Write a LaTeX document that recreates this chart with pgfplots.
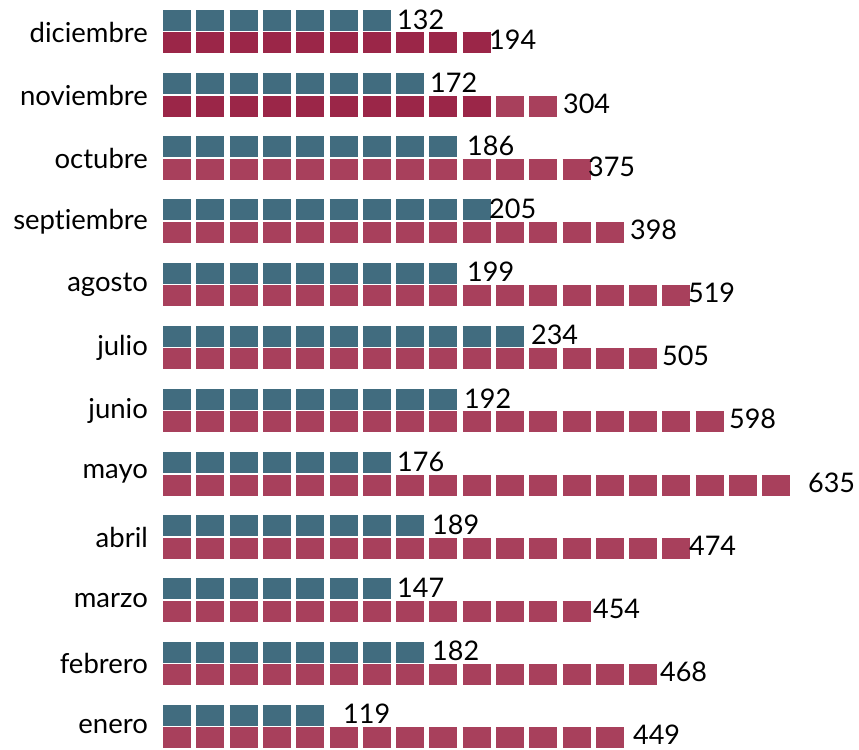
\documentclass[border=0pt]{standalone}
\usepackage{fontspec}
\setmainfont{Lato}[Ligatures=NoCommon]
\usepackage{pgfplots}
\usepackage{pgfplotstable}
\pgfplotsset{compat=1.18}
\definecolor{cblue}{RGB}{65,108,127}
\definecolor{cred}{RGB}{168,64,92}
\definecolor{cdark}{RGB}{155,38,72}
% r: row (0 = enero), nb/nr: squares, lb/lr: label x (px), vb/vr: values
\pgfplotstableread{
r name nb nr lb lr vb vr
11 diciembre 7 10 397 489 132 194
10 noviembre 8 12 430 563 172 304
9 octubre 9 13 467 588 186 375
8 septiembre 10 14 489 630 205 398
7 agosto 9 16 467 688 199 519
6 julio 11 15 531 662 234 505
5 junio 9 17 464 729 192 598
4 mayo 7 19 397 808 176 635
3 abril 8 16 432 689 189 474
2 marzo 7 13 397 593 147 454
1 febrero 8 15 432 660 182 468
0 enero 5 14 343 633 119 449
}\data
\pgfplotstableread{
r nd
11 10
10 10
}\dark
\begin{document}
\begin{tikzpicture}
\begin{axis}[
  x=33.3bp, y=63.18bp,
  xmin=-4.895, xmax=20.901, ymin=-0.364, ymax=11.5065,
  axis line style={draw=none}, major tick length=0pt,
  xtick=\empty, ytick={0,...,11},
  yticklabels={enero,febrero,marzo,abril,mayo,junio,julio,agosto,sept\kern0pt iembre,octubre,noviembre,diciembre},
  yticklabel style={anchor=east, xshift=148bp, inner sep=0pt, font=\fontsize{27.5bp}{32bp}\selectfont},
  clip=false,
  nodes near coords style={anchor=west, inner sep=0pt, font=\fontsize{27bp}{32bp}\selectfont},
]
\path (rel axis cs:0,0) rectangle (rel axis cs:1,1);
\addplot[draw=cblue, line width=21bp, dash pattern=on 28bp off 5.3bp,
  quiver={u=\thisrow{nb}-0.159, v=0}]
  table[x expr=0, y expr=\thisrow{r}+0.182] \data;
\addplot[draw=cred, line width=21bp, dash pattern=on 28bp off 5.3bp,
  quiver={u=\thisrow{nr}-0.159, v=0}]
  table[x expr=0, y expr=\thisrow{r}-0.174] \data;
\addplot[draw=cdark, line width=21bp, dash pattern=on 28bp off 5.3bp,
  quiver={u=\thisrow{nd}-0.159, v=0}]
  table[x expr=0, y expr=\thisrow{r}-0.174] \dark;
\addplot[draw=none, mark=none,
  nodes near coords, point meta=explicit symbolic]
  table[x expr=(\thisrow{lb}-163)/33.3, y expr=\thisrow{r}+0.2, meta=vb] \data;
\addplot[draw=none, mark=none,
  nodes near coords, point meta=explicit symbolic]
  table[x expr=(\thisrow{lr}-163)/33.3, y expr=\thisrow{r}-0.13, meta=vr] \data;
\end{axis}
\end{tikzpicture}
\end{document}
